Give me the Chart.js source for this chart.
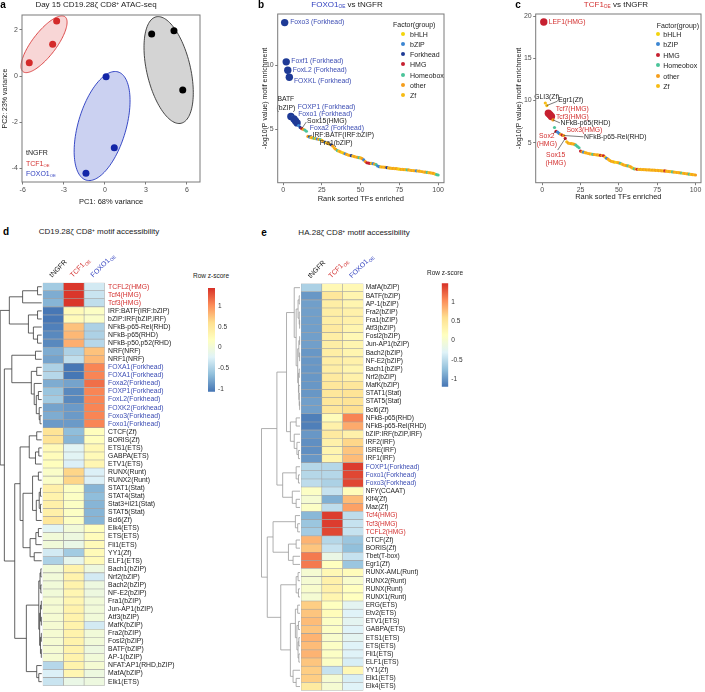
<!DOCTYPE html>
<html>
<head>
<meta charset="utf-8">
<script src="https://cdn.jsdelivr.net/npm/chart.js@4.4.1/dist/chart.umd.min.js"></script>
<style>
  body { margin: 0; background: #fff; }
  #page { position: relative; width: 705px; height: 692px; overflow: hidden; font-family: 'Liberation Sans', Arial, sans-serif; color: #222; }
  canvas { position: absolute; }
  .t { position: absolute; white-space: nowrap; line-height: 1; }
  .letter { font-weight: bold; font-size: 10px; color: #000; }
  .title { font-size: 8px; }
  .small { font-size: 7px; }
  .tiny { font-size: 6.5px; }
  .dot { position: absolute; width: 4px; height: 4px; border-radius: 50%; transform: translate(-50%, -50%); }
  sub { font-size: 0.6em; vertical-align: -0.3em; line-height: 0; }
  sup { font-size: 0.6em; vertical-align: 0.5em; line-height: 0; }
</style>
</head>
<body>
<div id="page">
  <canvas id="pcaChart" width="205" height="210" style="left:0;top:0"></canvas>
  <canvas id="foxoChart" width="198" height="210" style="left:250px;top:0"></canvas>
  <canvas id="tcfChart" width="200" height="210" style="left:505px;top:0"></canvas>
  <canvas id="heatD" width="180" height="452" style="left:0;top:240px"></canvas>
  <canvas id="heatE" width="180" height="452" style="left:255px;top:240px"></canvas>
  <canvas id="barD" width="40" height="120" style="left:200px;top:280px"></canvas>
  <canvas id="barE" width="40" height="120" style="left:434px;top:275px"></canvas>
</div>
<script>
// ### DATA ###
// panel a, PCA coordinates per group
const tngfrPC1 = [3.42, 5.05, 5.69];
const tngfrPC2 = [1.83, 1.97, -0.61];
const tcfPC1 = [-5.52, -3.81, -3.52];
const tcfPC2 = [0.58, 1.38, 2.39];
const foxoPC1 = [0.09, 0.69, -1.38];
const foxoPC2 = [-0.03, -3.11, -4.22];
// ellipses: centre, first and second semi-axis (data units)
const ellipseCentres = [[4.66, 0.26], [-4.44, 1.38], [-0.2, -2.17]];
const ellipseAxisA = [[-0.915, 2.31], [1.535, 1.19], [1.16, 2.35]];
const ellipseAxisB = [[1.55, 0.22], [0.69, -0.32], [1.68, -0.29]];
const pcaTicksX = [-6, -3, 0, 3, 6];
const pcaTicksY = [-4, -2, 0, 2];

// factor groups (b, c)
const groupNames = ['bHLH', 'bZIP', 'Forkhead', 'HMG', 'Homeobox', 'other', 'Zf'];
const groupColors = ['#F3D40C', '#3B86D2', '#1E3A96', '#C62030', '#4BC49A', '#F59E1C', '#F7BC14'];

// panel b, FOXO1 vs tNGFR, ranks 1..100
const foxoScores = [
  13.3, 10.25, 9.6, 9.05, 6.0, 5.95, 5.8, 5.65, 5.5, 5.3,
  5.15, 5.05, 5.0, 4.95, 4.85, 4.45, 4.4, 4.36, 4.33, 4.3,
  4.28, 4.25, 4.22, 4.2, 4.15, 4.05, 4.0, 3.95, 3.9, 3.85,
  3.8, 3.7, 3.55, 3.45, 3.35, 3.3, 3.25, 3.2, 3.15, 3.1,
  3.05, 3.0, 2.98, 2.95, 2.92, 2.88, 2.85, 2.82, 2.8, 2.78,
  2.72, 2.62, 2.5, 2.4, 2.38, 2.36, 2.35, 2.33, 2.3, 2.25,
  2.15, 2.1, 2.08, 2.07, 2.06, 2.05, 2.03, 2.0, 1.98, 1.97,
  1.96, 1.95, 1.94, 1.92, 1.9, 1.89, 1.88, 1.87, 1.86, 1.85,
  1.84, 1.82, 1.8, 1.79, 1.78, 1.77, 1.76, 1.75, 1.72, 1.7,
  1.68, 1.67, 1.65, 1.63, 1.62, 1.6, 1.57, 1.52, 1.48, 1.45
];
const foxoGroups = [
  2, 2, 2, 2, 2, 1, 2, 2, 2, 1,
  2, 3, 5, 4, 4, 5, 1, 6, 5, 4,
  6, 1, 5, 4, 6, 5, 1, 6, 5, 6,
  2, 5, 6, 5, 4, 6, 5, 0, 6, 1,
  5, 6, 5, 2, 6, 5, 6, 5, 4, 6,
  5, 1, 5, 3, 3, 3, 6, 1, 5, 4,
  1, 1, 6, 5, 6, 5, 2, 6, 5, 6,
  5, 6, 5, 6, 0, 5, 6, 5, 6, 4,
  5, 6, 5, 6, 5, 1, 6, 5, 6, 5,
  6, 5, 4, 6, 5, 6, 5, 6, 4, 4
];
const foxoBig = [1, 2, 3, 4, 5, 7, 8, 9];
const foxoLegend = [0, 1, 2, 3, 4, 5, 6];

// panel c, TCF1 vs tNGFR, ranks 1..100
const tcfScores = [
  19.3, 9.7, 9.4, 8.5, 8.3, 8.1, 7.7, 6.8, 6.35, 6.25,
  6.1, 6.0, 5.9, 5.85, 5.5, 5.1, 4.95, 4.9, 4.88, 4.85,
  4.8, 4.7, 4.55, 4.4, 4.0, 3.92, 3.88, 3.82, 3.78, 3.72,
  3.68, 3.65, 3.62, 3.6, 3.57, 3.55, 3.52, 3.5, 3.48, 3.45,
  3.3, 3.15, 3.05, 2.9, 2.8, 2.75, 2.7, 2.68, 2.65, 2.6,
  2.55, 2.45, 2.38, 2.32, 2.28, 2.25, 2.2, 2.1, 1.98, 1.9,
  1.88, 1.85, 1.84, 1.83, 1.82, 1.81, 1.8, 1.79, 1.78, 1.77,
  1.76, 1.75, 1.74, 1.73, 1.72, 1.7, 1.68, 1.67, 1.66, 1.65,
  1.63, 1.6, 1.58, 1.56, 1.54, 1.52, 1.5, 1.47, 1.45, 1.43,
  1.41, 1.38, 1.35, 1.32, 1.3, 1.27, 1.25, 1.22, 1.2, 1.17
];
const tcfGroups = [
  3, 6, 6, 3, 3, 3, 5, 4, 3, 1,
  1, 5, 3, 5, 3, 6, 5, 6, 5, 6,
  5, 4, 4, 4, 3, 5, 1, 6, 5, 6,
  5, 6, 4, 5, 6, 5, 6, 3, 5, 3,
  6, 1, 5, 6, 5, 6, 5, 0, 6, 5,
  4, 6, 5, 6, 5, 4, 6, 5, 6, 4,
  5, 3, 6, 5, 6, 5, 6, 5, 6, 5,
  6, 5, 6, 5, 6, 5, 6, 5, 6, 3,
  5, 6, 5, 6, 4, 5, 6, 5, 6, 5,
  4, 6, 5, 6, 5, 4, 6, 5, 6, 5
];
const tcfBig = [1, 4, 5, 6];
const tcfLegend = [0, 1, 3, 4, 5, 6];
const rankTicks = [0, 25, 50, 75, 100];
const foxoTicksY = [5, 10];
const tcfTicksY = [5, 10, 15, 20];

// panel d, CD19.28z motif accessibility (row z-score)
const motifsD = [
  'TCFL2(HMG)', 'Tcf4(HMG)', 'Tcf3(HMG)', 'IRF:BATF(IRF:bZIP)', 'bZIP:IRF(bZIP,IRF)',
  'NFkB-p65-Rel(RHD)', 'NFkB-p65(RHD)', 'NFkB-p50,p52(RHD)', 'NRF(NRF)', 'NRF1(NRF)',
  'FOXA1(Forkhead)', 'FOXA1(Forkhead)', 'Foxa2(Forkhead)', 'FOXP1(Forkhead)', 'FoxL2(Forkhead)',
  'FOXK2(Forkhead)', 'Foxo3(Forkhead)', 'Foxo1(Forkhead)', 'CTCF(Zf)', 'BORIS(Zf)',
  'ETS1(ETS)', 'GABPA(ETS)', 'ETV1(ETS)', 'RUNX(Runt)', 'RUNX2(Runt)',
  'STAT1(Stat)', 'STAT4(Stat)', 'Stat3+il21(Stat)', 'STAT5(Stat)', 'Bcl6(Zf)',
  'Elk4(ETS)', 'ETS(ETS)', 'Fli1(ETS)', 'YY1(Zf)', 'ELF1(ETS)',
  'Bach1(bZIP)', 'Nrf2(bZIP)', 'Bach2(bZIP)', 'NF-E2(bZIP)', 'Fra1(bZIP)',
  'Jun-AP1(bZIP)', 'Atf3(bZIP)', 'MafK(bZIP)', 'Fra2(bZIP)', 'Fosl2(bZIP)',
  'BATF(bZIP)', 'AP-1(bZIP)', 'NFAT:AP1(RHD,bZIP)', 'MafA(bZIP)', 'Elk1(ETS)'
];
const zTngfrD = [
  -0.55, -0.75, -0.7, -1.05, -1.05, -1.0, -0.95, -0.95, -0.75, -0.8,
  -0.5, -0.45, -0.75, -0.6, -0.55, -0.8, -0.75, -0.85, 0.55, 0.55,
  0.25, 0.22, 0.2, 0.12, 0.12, 0.38, 0.35, 0.38, 0.38, 0.5,
  -0.2, 0.0, 0.0, -0.3, -0.5, 0.0, 0.0, 0.0, 0.0, 0.05,
  0.05, 0.05, 0.05, 0.05, 0.05, 0.05, 0.05, -0.45, -0.25, -0.35
];
const zTcfD = [
  1.4, 1.4, 1.4, 0.25, 0.25, 0.75, 0.8, 0.85, -0.5, -0.4,
  -1.05, -1.05, -0.8, -0.95, -0.95, -0.85, -0.85, -0.85, -0.65, -0.7,
  -0.2, -0.2, -0.25, 0.65, 0.65, 0.15, 0.15, 0.15, 0.15, 0.15,
  0.0, -0.05, -0.1, -0.55, -0.15, 0.35, 0.35, 0.35, 0.3, 0.3,
  0.35, 0.35, 0.35, 0.35, 0.35, 0.35, 0.35, 0.35, 0.3, -0.1
];
const zFoxoD = [
  -0.3, -0.35, -0.4, 0.15, 0.12, -0.5, -0.5, -0.45, 0.75, 0.8,
  1.05, 1.05, 1.15, 1.05, 1.05, 1.05, 1.05, 1.05, 0.2, 0.2,
  0.28, 0.25, 0.3, -0.25, -0.25, -0.7, -0.65, -0.7, -0.7, -0.7,
  0.2, 0.22, 0.25, 0.25, 0.25, -0.05, -0.3, -0.05, -0.05, 0.0,
  0.0, 0.0, -0.3, 0.0, 0.0, -0.05, 0.0, 0.05, -0.05, -0.05
];
const zRangeD = [-1.06, 1.43];

// panel e, HA.28z motif accessibility (row z-score)
const motifsE = [
  'MafA(bZIP)', 'BATF(bZIP)', 'AP-1(bZIP)', 'Fra2(bZIP)', 'Fra1(bZIP)',
  'Atf3(bZIP)', 'Fosl2(bZIP)', 'Jun-AP1(bZIP)', 'Bach2(bZIP)', 'NF-E2(bZIP)',
  'Bach1(bZIP)', 'Nrf2(bZIP)', 'MafK(bZIP)', 'STAT1(Stat)', 'STAT5(Stat)',
  'Bcl6(Zf)', 'NFkB-p65(RHD)', 'NFkB-p65-Rel(RHD)', 'bZIP:IRF(bZIP,IRF)', 'IRF2(IRF)',
  'ISRE(IRF)', 'IRF1(IRF)', 'FOXP1(Forkhead)', 'Foxo1(Forkhead)', 'Foxo3(Forkhead)',
  'NFY(CCAAT)', 'Klf4(Zf)', 'Maz(Zf)', 'Tcf4(HMG)', 'Tcf3(HMG)',
  'TCFL2(HMG)', 'CTCF(Zf)', 'BORIS(Zf)', 'Tbet(T-box)', 'Egr1(Zf)',
  'RUNX-AML(Runt)', 'RUNX2(Runt)', 'RUNX(Runt)', 'RUNX1(Runt)', 'ERG(ETS)',
  'Etv2(ETS)', 'ETV1(ETS)', 'GABPA(ETS)', 'ETS1(ETS)', 'ETS(ETS)',
  'Fli1(ETS)', 'ELF1(ETS)', 'YY1(Zf)', 'Elk1(ETS)', 'Elk4(ETS)'
];
const zTngfrE = [
  -0.6, -1.0, -0.95, -0.95, -0.95, -0.95, -0.95, -0.95, -1.0, -1.0,
  -1.0, -1.0, -1.0, -1.0, -0.95, -0.95, -1.15, -1.15, -1.0, -1.05,
  -1.05, -1.0, -0.55, -0.55, -0.5, 0.1, 0.0, 0.1, -0.8, -0.7,
  -0.65, 0.85, 0.75, 1.15, 1.15, 0.0, 0.0, 0.05, 0.0, 0.7,
  0.75, 0.8, 0.75, 0.85, 0.8, 0.85, 0.75, 0.7, 0.7, 0.45
];
const zTcfE = [
  0.25, 0.5, 0.4, 0.4, 0.4, 0.45, 0.4, 0.4, 0.4, 0.4,
  0.4, 0.45, 0.5, 0.5, 0.5, 0.5, 0.2, 0.35, 0.45, 0.35,
  0.3, 0.3, -0.55, -0.55, -0.6, -0.45, -0.85, -0.5, 1.45, 1.45,
  1.4, -0.55, -0.45, -0.15, 0.15, 0.25, 0.35, 0.35, 0.3, 0.15,
  0.2, 0.1, 0.1, 0.05, 0.1, 0.1, 0.1, -0.45, 0.0, 0.0
];
const zFoxoE = [
  0.25, 0.3, 0.3, 0.35, 0.35, 0.3, 0.25, 0.3, 0.3, 0.35,
  0.3, 0.35, 0.5, 0.55, 0.55, 0.6, 1.1, 0.9, 0.35, 0.65,
  0.75, 0.8, 1.45, 1.4, 1.4, 0.2, 0.8, 0.95, -0.5, -0.45,
  -0.45, -0.7, -0.75, -0.45, -0.7, 0.2, 0.05, 0.15, 0.15, -0.25,
  -0.3, -0.25, -0.3, -0.25, -0.3, -0.3, -0.35, 0.25, -0.35, -0.3
];
const zRangeE = [-1.21, 1.51];
const zTicks = [-1, -0.5, 0, 0.5, 1];

// row dendrograms: [height, left, right], leaves are row indices
const treeD = [10,
  [7.8, [4.6, [1.0, 0, 1], 2], [3.2, [1.0, 3, 4], [2.0, 5, [1.0, 6, 7]]]],
  [9.0,
    [7.2, [1.5, 8, 9], [2.5, [1.2, 10, 11], [1.8, 12, [1.3, [0.8, 13, 14], [0.6, 15, [0.4, 16, 17]]]]]],
    [6.5,
      [5.2, [3.0, [1.2, 18, 19], [1.5, [0.7, 20, 21], 22]],
            [4.5, [2.2, [0.8, 23, 24], [1.3, [0.6, [0.3, 25, 26], [0.3, 27, 28]], 29]],
                  [2.8, [1.4, [0.8, 30, 31], 32], [1.8, 33, 34]]]],
      [3.7, [0.7, [0.4, [0.2, 35, 36], [0.2, 37, 38]],
                  [0.5, [0.3, [0.1, 39, 40], [0.1, 41, 42]], [0.3, [0.1, 43, 44], [0.1, 45, 46]]]],
            [1.2, 47, [0.7, 48, 49]]]]]];
const treeE = [10,
  [6.0,
    [3.5, [1.5, 0, [1.0, [0.5, [0.2, 1, 2], [0.2, 3, [0.1, 4, 5]]],
                        [0.6, [0.3, [0.1, 6, 7], [0.1, 8, 9]], [0.4, [0.2, 10, 11], [0.3, 12, [0.2, 13, [0.1, 14, 15]]]]]]],
          [2.5, [1.0, 16, 17], [1.5, 18, [0.8, 19, [0.4, 20, 21]]]]],
    [4.5, [1.0, 22, [0.4, 23, 24]], [2.0, 25, [1.0, 26, 27]]]],
  [8.5,
    [7.0, [1.2, 28, [0.6, 29, 30]], [3.0, [1.0, 31, 32], [1.8, 33, 34]]],
    [5.0, [1.0, [0.5, 35, 36], [0.4, 37, 38]],
          [2.5, [1.2, [0.6, 39, 40], [0.8, [0.4, 41, 42], [0.5, [0.3, 43, 44], [0.3, 45, 46]]]], [1.8, 47, [1.0, 48, 49]]]]]];

// ### COLOURS / HELPERS ###
const RED = '#D3302F', BLUE = '#2E3EBE', LABEL_BLUE = '#3D4EB4';
const palette = ['#4575B4', '#91BFDB', '#E0F3F8', '#FFFFBF', '#FEE090', '#FC8D59', '#D73027'];
const FONT = "'Liberation Sans', Arial, sans-serif";

Chart.defaults.font.family = FONT;
Chart.defaults.color = '#333';

function hexRgb(h) { return [1, 3, 5].map(i => parseInt(h.substr(i, 2), 16)); }
function zColor(v, range) {
  let t = (v - range[0]) / (range[1] - range[0]);
  t = Math.min(1, Math.max(0, t)) * (palette.length - 1);
  const i = Math.min(palette.length - 2, Math.floor(t)), f = t - i;
  const a = hexRgb(palette[i]), b = hexRgb(palette[i + 1]);
  return 'rgb(' + a.map((c, k) => Math.round(c + (b[k] - c) * f)).join(',') + ')';
}
function rowColor(name) {
  if (name.indexOf('(Forkhead)') > 0) return LABEL_BLUE;
  if (name.indexOf('(HMG)') > 0) return RED;
  return '#222';
}
function fixSize(size, horizontal) {
  return s => {
    if (horizontal) s.height = size; else s.width = size;
    s.paddingLeft = s.paddingRight = s.paddingTop = s.paddingBottom = 0;
  };
}
function useTicks(list) { return s => { s.ticks = list.map(v => ({ value: v })); }; }

// ### PLUGINS ###
const boxPlugin = {
  id: 'box',
  afterDraw(chart) {
    const { ctx, chartArea: a } = chart;
    ctx.save();
    ctx.strokeStyle = '#7a7a7a'; ctx.lineWidth = 1;
    ctx.strokeRect(a.left, a.top, a.right - a.left, a.bottom - a.top);
    ctx.restore();
  }
};

const ellipsePlugin = {
  id: 'ellipses',
  beforeDatasetsDraw(chart, args, opts) {
    const { ctx, scales: { x, y } } = chart;
    opts.items.forEach(e => {
      ctx.save();
      ctx.beginPath();
      for (let k = 0; k <= 120; k++) {
        const t = k / 120 * 2 * Math.PI;
        const vx = e.c[0] + e.a[0] * Math.cos(t) + e.b[0] * Math.sin(t);
        const vy = e.c[1] + e.a[1] * Math.cos(t) + e.b[1] * Math.sin(t);
        const px = x.getPixelForValue(vx), py = y.getPixelForValue(vy);
        if (k) ctx.lineTo(px, py); else ctx.moveTo(px, py);
      }
      ctx.closePath();
      ctx.fillStyle = e.fill; ctx.fill();
      ctx.strokeStyle = e.stroke; ctx.lineWidth = 0.9; ctx.stroke();
      ctx.restore();
    });
  }
};

// text labels next to ranked points, with optional leader lines
const tagPlugin = {
  id: 'tags',
  afterDatasetsDraw(chart, args, opts) {
    const { ctx } = chart;
    const meta = chart.getDatasetMeta(0);
    opts.items.forEach(t => {
      const el = meta.data[t.rank - 1];
      ctx.save();
      if (t.leader) {
        ctx.strokeStyle = '#222'; ctx.lineWidth = 0.6;
        ctx.beginPath(); ctx.moveTo(el.x, el.y); ctx.lineTo(el.x + t.leader[0], el.y + t.leader[1]); ctx.stroke();
      }
      ctx.fillStyle = t.color; ctx.font = '6.8px ' + FONT;
      ctx.textAlign = t.align || 'left'; ctx.textBaseline = 'middle';
      t.text.split('\n').forEach((line, i) => ctx.fillText(line, el.x + t.dx, el.y + t.dy + i * 8.5));
      ctx.restore();
    });
  }
};

const dendroPlugin = {
  id: 'dendro',
  afterDraw(chart, args, opts) {
    const { ctx } = chart;
    const y = chart.scales.y, left = chart.chartArea.left - 1;
    ctx.save();
    ctx.strokeStyle = opts.color; ctx.lineWidth = 0.8;
    ctx.beginPath();
    const walk = node => {
      if (typeof node === 'number') return { x: left, y: y.getPixelForValue(node) };
      const p = walk(node[1]), q = walk(node[2]);
      const x = left - node[0] * opts.unit;
      ctx.moveTo(p.x, p.y); ctx.lineTo(x, p.y); ctx.lineTo(x, q.y); ctx.lineTo(q.x, q.y);
      return { x, y: (p.y + q.y) / 2 };
    };
    walk(opts.tree);
    ctx.stroke();
    ctx.restore();
  }
};

const headPlugin = {
  id: 'heads',
  afterDraw(chart, args, opts) {
    const { ctx } = chart;
    const x = chart.scales.x, top = chart.chartArea.top;
    opts.items.forEach((it, i) => {
      ctx.save();
      ctx.translate(x.getPixelForValue(i + 0.5) - 1, top - 5);
      ctx.rotate(-Math.PI / 4);
      ctx.fillStyle = it.color; ctx.font = '7px ' + FONT; ctx.textBaseline = 'alphabetic';
      ctx.fillText(it.main, 0, 0);
      if (it.sub) {
        const w = ctx.measureText(it.main).width;
        ctx.font = '4.5px ' + FONT;
        ctx.fillText(it.sub, w + 0.5, 1.8);
      }
      ctx.restore();
    });
  }
};
const headItems = [
  { main: 'tNGFR', color: '#111' },
  { main: 'TCF1', sub: 'OE', color: RED },
  { main: 'FOXO1', sub: 'OE', color: BLUE }
];

// ### SCATTER OPTIONS ###
function plotOptions(cfg) {
  const tickFont = { size: 7 };
  const grid = { drawOnChartArea: false, tickLength: 2.5, color: '#444', lineWidth: 0.7 };
  return {
    responsive: false, animation: false, devicePixelRatio: 1,
    layout: { padding: cfg.pad },
    plugins: Object.assign({ legend: { display: false }, tooltip: { enabled: false } }, cfg.plugins),
    scales: {
      x: {
        type: 'linear', min: cfg.x[0], max: cfg.x[1],
        afterBuildTicks: useTicks(cfg.xTicks), afterFit: fixSize(cfg.xh, true),
        grid, border: { display: false },
        ticks: { font: tickFont, color: '#4d4d4d', padding: 1, maxRotation: 0, autoSkip: false },
        title: { display: true, text: cfg.xTitle, color: '#222', font: { size: 7.5 }, padding: { top: 0, bottom: cfg.xTitlePad } }
      },
      y: {
        type: 'linear', min: cfg.y[0], max: cfg.y[1],
        afterBuildTicks: useTicks(cfg.yTicks), afterFit: fixSize(cfg.yw, false),
        grid, border: { display: false },
        ticks: { font: tickFont, color: '#4d4d4d', padding: 1.5, autoSkip: false },
        title: { display: true, text: cfg.yTitle, color: '#222', font: { size: 7 }, padding: { top: cfg.yTitlePad, bottom: 0 } }
      }
    }
  };
}

// ### PANEL A: PCA ###
const pcaGroups = [
  { x: tngfrPC1, y: tngfrPC2, color: '#000000', fill: 'rgba(120,120,120,0.32)', stroke: '#333' },
  { x: tcfPC1, y: tcfPC2, color: '#D42A2A', fill: 'rgba(226,90,90,0.25)', stroke: '#D83A3A' },
  { x: foxoPC1, y: foxoPC2, color: '#1326A8', fill: 'rgba(70,90,205,0.28)', stroke: '#2538C0' }
];
new Chart(document.getElementById('pcaChart'), {
  type: 'scatter',
  data: {
    datasets: pcaGroups.map(g => ({
      data: g.x.map((v, i) => ({ x: v, y: g.y[i] })),
      pointBackgroundColor: g.color, pointBorderWidth: 0, pointRadius: 3.5
    }))
  },
  options: plotOptions({
    pad: { left: 0, top: 15, right: 5, bottom: 0 }, x: [-6.05, 6.95], y: [-4.6, 2.65],
    xTicks: pcaTicksX, yTicks: pcaTicksY, xh: 28, yw: 22,
    xTitle: 'PC1: 68% variance', yTitle: 'PC2: 23% variance', xTitlePad: 3.5, yTitlePad: 1,
    plugins: {
      ellipses: {
        items: pcaGroups.map((g, i) => ({ c: ellipseCentres[i], a: ellipseAxisA[i], b: ellipseAxisB[i], fill: g.fill, stroke: g.stroke }))
      }
    }
  }),
  plugins: [ellipsePlugin, boxPlugin]
});

// ### PANELS B, C: ranked motif enrichment ###
function rankChart(id, scores, groups, big, cfg) {
  return new Chart(document.getElementById(id), {
    type: 'scatter',
    data: {
      datasets: [{
        data: scores.map((v, i) => ({ x: i + 1, y: v })),
        pointBackgroundColor: groups.map(g => groupColors[g]),
        pointRadius: scores.map((v, i) => big.includes(i + 1) ? 3.7 : 1.6),
        pointBorderWidth: 0
      }]
    },
    options: plotOptions(cfg),
    plugins: [tagPlugin, boxPlugin]
  });
}

rankChart('foxoChart', foxoScores, foxoGroups, foxoBig, {
  pad: { left: 0, top: 14, right: 3, bottom: 0 }, x: [-3.5, 103.8], y: [0.85, 13.97],
  xTicks: rankTicks, yTicks: foxoTicksY, xh: 27.3, yw: 27.7,
  xTitle: 'Rank sorted TFs enriched', yTitle: '-log10(P value) motif enrichment', xTitlePad: 6.5, yTitlePad: 10.5,
  plugins: {
    tags: {
      items: [
        { rank: 1, text: 'Foxo3 (Forkhead)', color: LABEL_BLUE, dx: 5.5, dy: 0 },
        { rank: 2, text: 'Foxf1 (Forkhead)', color: LABEL_BLUE, dx: 5, dy: -0.5 },
        { rank: 3, text: 'FoxL2 (Forkhead)', color: LABEL_BLUE, dx: 5, dy: 0 },
        { rank: 4, text: 'FOXKL (Forkhead)', color: LABEL_BLUE, dx: 4.6, dy: 3.7 },
        { rank: 6, text: 'BATF\n(bZIP)', color: '#222', dx: -6.6, dy: -17.8, align: 'center' },
        { rank: 5, text: 'FOXP1 (Forkhead)', color: LABEL_BLUE, dx: 7, dy: -9.2 },
        { rank: 7, text: 'Foxo1 (Forkhead)', color: LABEL_BLUE, dx: 4.2, dy: -5.3 },
        { rank: 12, text: 'Sox15(HMG)', color: '#222', dx: 5.4, dy: -8, leader: [4.6, -6.7] },
        { rank: 11, text: 'Foxa2 (Forkhead)', color: LABEL_BLUE, dx: 9.7, dy: 0.3 },
        { rank: 16, text: 'IRF:BATF(IRF:bZIP)', color: '#222', dx: 4.6, dy: -1.4, leader: [4, -1.2] },
        { rank: 22, text: 'Fra1(bZIP)', color: '#222', dx: 2.5, dy: 4.6 }
      ]
    }
  }
});

rankChart('tcfChart', tcfScores, tcfGroups, tcfBig, {
  pad: { left: 0, top: 14, right: 2.7, bottom: 0 }, x: [-4.27, 103.6], y: [0.26, 20.24],
  xTicks: rankTicks, yTicks: tcfTicksY, xh: 27.3, yw: 30.7,
  xTitle: 'Rank sorted TFs enriched', yTitle: '-log10(P value) motif enrichment', xTitlePad: 8.8, yTitlePad: 9.8,
  plugins: {
    tags: {
      items: [
        { rank: 1, text: 'LEF1(HMG)', color: RED, dx: 5, dy: 0 },
        { rank: 2, text: 'GLI3(Zf)', color: '#222', dx: 1.6, dy: -6.3, align: 'center' },
        { rank: 3, text: 'Egr1(Zf)', color: '#222', dx: 11.4, dy: -5.3, leader: [10.6, -4.3] },
        { rank: 4, text: 'Tcf7(HMG)', color: RED, dx: 7.5, dy: -4 },
        { rank: 6, text: 'Tcf3(HMG)', color: RED, dx: 4.5, dy: 0.4 },
        { rank: 7, text: 'NFkB-p65(RHD)', color: '#222', dx: 7.6, dy: 3, leader: [7, 3] },
        { rank: 9, text: 'Sox2\n(HMG)', color: RED, dx: -9.2, dy: 4.7, align: 'center', leader: [-3, 2.5] },
        { rank: 13, text: 'Sox3(HMG)', color: RED, dx: 4.3, dy: -5.1 },
        { rank: 14, text: 'NFkB-p65-Rel(RHD)', color: '#222', dx: 20.4, dy: 1.3, leader: [19.8, 1.3] },
        { rank: 15, text: 'Sox15\n(HMG)', color: RED, dx: -9.5, dy: 16.6, align: 'center', leader: [-7.5, 11.6] }
      ]
    }
  }
});

// ### PANELS D, E: heatmaps ###
function heatmap(id, rows, cols, range, cfg) {
  return new Chart(document.getElementById(id), {
    type: 'bar',
    data: {
      labels: rows,
      datasets: cols.map(z => ({
        data: rows.map(() => 1),
        backgroundColor: z.map(v => zColor(v, range)),
        borderColor: '#a3a3a3', borderWidth: 0.6, borderSkipped: false,
        barPercentage: 1, categoryPercentage: 1
      }))
    },
    options: {
      indexAxis: 'y', responsive: false, animation: false, devicePixelRatio: 1,
      layout: { padding: cfg.pad },
      plugins: {
        legend: { display: false }, tooltip: { enabled: false },
        dendro: { tree: cfg.tree, unit: cfg.unit, color: cfg.treeColor },
        heads: { items: headItems }
      },
      scales: {
        x: { stacked: true, min: 0, max: 3, display: false },
        y: {
          stacked: true, position: 'right', afterFit: fixSize(cfg.yw, false),
          grid: { display: false, drawTicks: false }, border: { display: false },
          ticks: { autoSkip: false, padding: cfg.labelPad, font: { size: cfg.fontSize }, color: c => rowColor(rows[c.index]) }
        }
      }
    },
    plugins: [dendroPlugin, headPlugin]
  });
}

heatmap('heatD', motifsD, [zTngfrD, zTcfD, zFoxoD], zRangeD, {
  pad: { left: 42.7, top: 42.7, right: 0, bottom: 6.3 }, yw: 75.3, labelPad: 3.4, fontSize: 6.8,
  tree: treeD, unit: 4.15, treeColor: '#3a3a3a'
});
heatmap('heatE', motifsE, [zTngfrE, zTcfE, zFoxoE], zRangeE, {
  pad: { left: 46, top: 43.6, right: 0, bottom: 1.4 }, yw: 71.6, labelPad: 2.3, fontSize: 6.6,
  tree: treeE, unit: 3.85, treeColor: '#9a9a9a'
});

// colour keys
function colourKey(id, range, cfg) {
  return new Chart(document.getElementById(id), {
    type: 'bar',
    data: {
      labels: ['z'],
      datasets: [{
        data: [range],
        barPercentage: 1, categoryPercentage: 1, borderWidth: 0,
        backgroundColor: c => {
          const chart = c.chart;
          if (!chart.chartArea) return palette[3];
          const y = chart.scales.y;
          const g = chart.ctx.createLinearGradient(0, y.getPixelForValue(range[0]), 0, y.getPixelForValue(range[1]));
          palette.forEach((col, i) => g.addColorStop(i / (palette.length - 1), col));
          return g;
        }
      }]
    },
    options: {
      responsive: false, animation: false, devicePixelRatio: 1,
      layout: { padding: cfg.pad },
      plugins: { legend: { display: false }, tooltip: { enabled: false } },
      scales: {
        x: { display: false },
        y: {
          min: range[0], max: range[1], position: 'right',
          afterBuildTicks: useTicks(zTicks), afterFit: fixSize(cfg.yw, false),
          grid: { display: false, drawTicks: false }, border: { display: false },
          ticks: { padding: 3, font: { size: 6.5 }, color: '#333', callback: v => String(v) }
        }
      }
    }
  });
}
colourKey('barD', zRangeD, { pad: { left: 8, top: 8, right: 0, bottom: 8.3 }, yw: 25 });
colourKey('barE', zRangeE, { pad: { left: 7.7, top: 8.3, right: 0, bottom: 8.3 }, yw: 25.7 });

// ### TEXT ###
const page = document.getElementById('page');
function put(html, x, y, cls, anchor) {
  const d = document.createElement('div');
  d.className = 't ' + (cls || '');
  d.innerHTML = html;
  d.style.left = x + 'px';
  d.style.top = y + 'px';
  d.style.transform = anchor === 'l' ? 'translate(0,-50%)' : 'translate(-50%,-50%)';
  page.appendChild(d);
  return d;
}
put('a', 3, 5, 'letter');
put('b', 261, 5, 'letter');
put('c', 518, 5, 'letter');
put('d', 6, 232, 'letter');
put('e', 264, 233, 'letter');
put('Day 15 CD19.28ζ CD8<sup>+</sup> ATAC-seq', 96, 5, 'title');
put('<span style="color:' + BLUE + '">FOXO1<sub>OE</sub></span> vs tNGFR', 347, 5, 'title');
put('<span style="color:' + RED + '">TCF1<sub>OE</sub></span> vs tNGFR', 616, 5, 'title');
put('CD19.28ζ CD8<sup>+</sup> motif accessibility', 99, 232, 'title');
put('HA.28ζ CD8<sup>+</sup> motif accessibility', 354, 233, 'title');
put('Row z-score', 211, 276, 'tiny');
put('Row z-score', 445, 273, 'tiny');
put('tNGFR', 26, 152, 'small', 'l');
put('<span style="color:' + RED + '">TCF1<sub>OE</sub></span>', 26, 162.5, 'small', 'l');
put('<span style="color:' + BLUE + '">FOXO1<sub>OE</sub></span>', 26, 173, 'small', 'l');

function legend(titleX, titleY, dotX, textX, firstY, gap, items) {
  put('Factor(group)', titleX, titleY, 'small', 'l');
  items.forEach((g, i) => {
    const y = firstY + i * gap;
    const dot = document.createElement('div');
    dot.className = 'dot';
    dot.style.left = dotX + 'px'; dot.style.top = y + 'px';
    dot.style.background = groupColors[g];
    page.appendChild(dot);
    put(groupNames[g], textX, y, 'small', 'l');
  });
}
legend(393, 24, 403.3, 410, 33.7, 10.2, foxoLegend);
legend(656.7, 25, 657.7, 663.3, 33.5, 10.5, tcfLegend);
</script>
</body>
</html>
